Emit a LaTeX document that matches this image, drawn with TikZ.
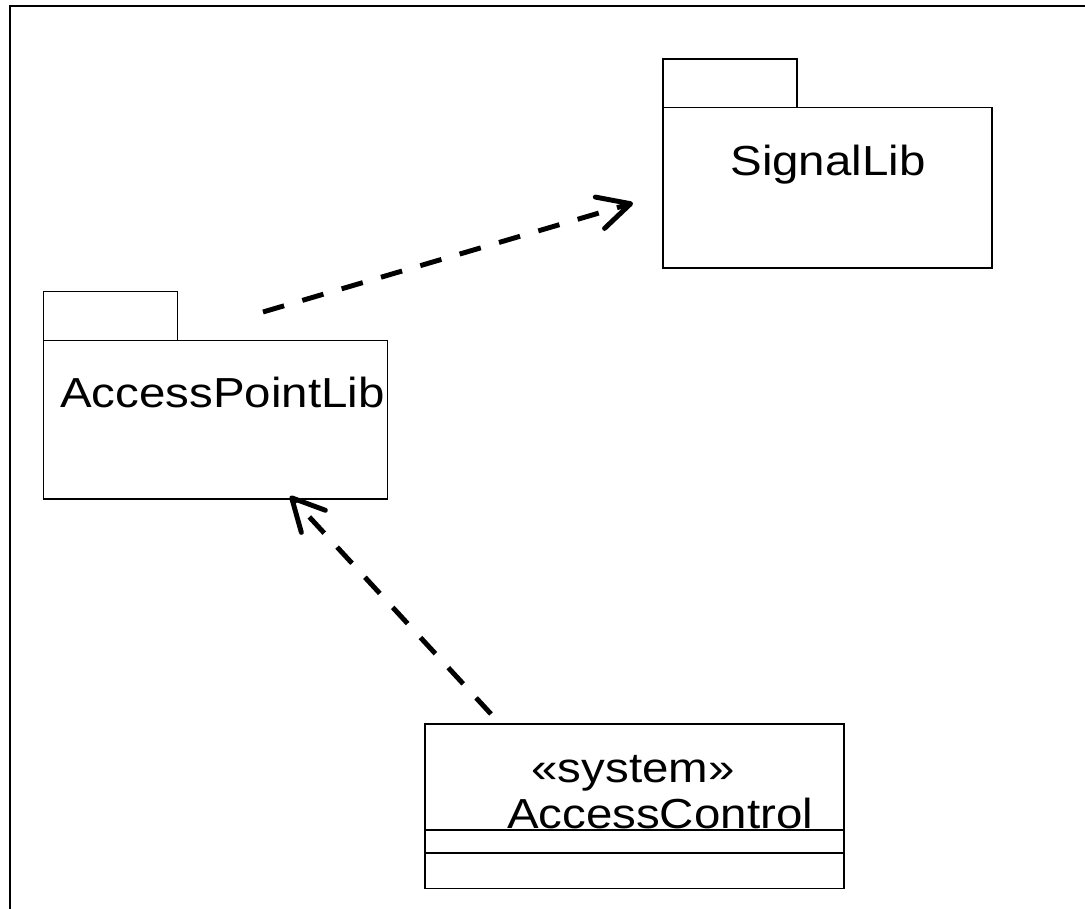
\documentclass[tikz,border=0pt]{standalone}
\usepackage{fontspec}
\setmainfont{Liberation Sans}
\usetikzlibrary{arrows.meta}
\begin{document}
\begin{tikzpicture}[x=0.75pt,y=-0.75pt,
  box/.style={draw=black, line width=1.25pt, inner sep=0pt, outer sep=0pt, anchor=north west},
  lbl/.style={inner sep=0pt, anchor=base, font=\fontsize{31.5pt}{37pt}\selectfont},
  dep/.style={line width=3.7pt, dash pattern=on 16.5pt off 14.25pt,
    -{Straight Barb[length=24pt,width=24.5pt,line cap=round,line join=round]}}
]
\useasboundingbox (0,0) rectangle (1085,909);
% frame
\draw[line width=1.6pt] (10,909) -- (10,6) -- (1085,6);

% SignalLib package
\node[box, minimum width=100.5pt, minimum height=36.4pt] (sigtab) at (663,59) {};
\node[box, minimum width=246.75pt, minimum height=120.4pt] (sigbody) at (663,107.5) {};
\node[lbl] (sigtxt) at (828,176) {\scalebox{1.13}[1]{SignalLib}};

% AccessPointLib package
\node[box, minimum width=100.5pt, minimum height=36.75pt] (aptab) at (43.5,291.5) {};
\node[box, minimum width=258pt, minimum height=118.9pt] (apbody) at (43.5,340.5) {};
\node[lbl, anchor=base west] (aptxt) at (60,407) {\scalebox{1.13}[1]{AccessPointLib}};

% AccessControl class
\node[box, line width=1.4pt, minimum width=314.25pt, minimum height=123.4pt] (cls) at (425,724) {};
\node[lbl] (stereo) at (633,782) {\scalebox{1.13}[1]{«system»}};
\node[lbl] (acname) at (660,828) {\scalebox{1.13}[1]{AccessControl}};
\coordinate (c1) at (425,830);
\coordinate (c2) at (425,853);
\draw[line width=1.4pt] (c1) -- (c1 -| cls.east);
\draw[line width=1.4pt] (c2) -- (c2 -| cls.east);

% dependencies
\coordinate (d1s) at (263,312);
\coordinate (d1e) at (633,203);
\draw[dep] (d1s) -- (d1e);
\coordinate (d2s) at (491,714);
\coordinate (d2e) at (290,496);
\draw[dep] (d2s) -- (d2e);
\end{tikzpicture}
\end{document}
